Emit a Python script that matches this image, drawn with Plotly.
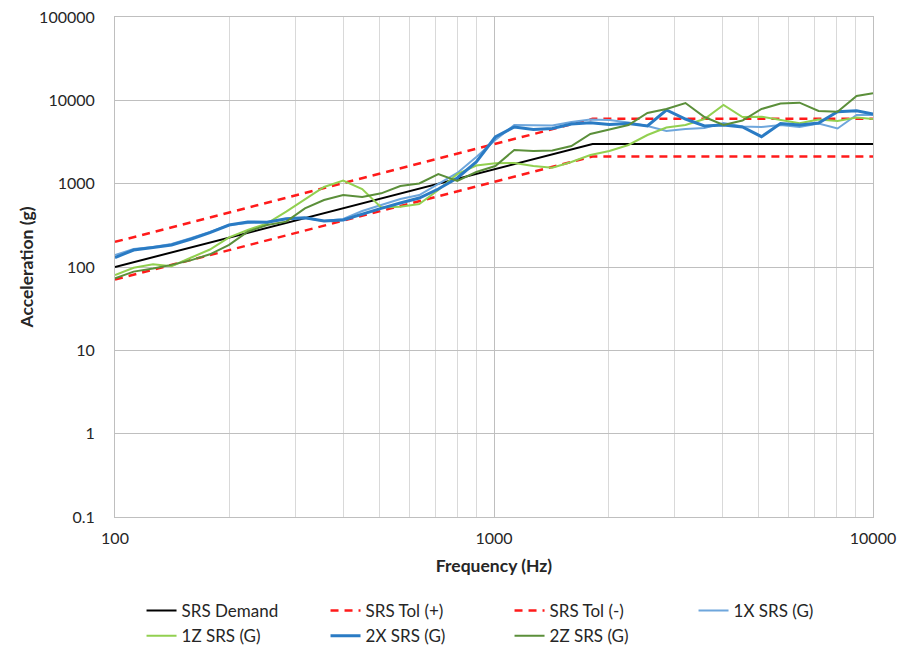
import plotly.graph_objects as go

# ---- data ----
freq = [100, 112, 126, 141, 159, 178, 200, 224, 252, 283, 317, 356, 400, 449, 504,
        566, 635, 713, 800, 898, 1008, 1131, 1270, 1425, 1600, 1796, 2016, 2263,
        2540, 2851, 3200, 3592, 4032, 4525, 5080, 5702, 6400, 7184, 8063, 9051, 10000]

srs_1x = [139, 164, 174, 189, 223, 263, 319, 337, 347, 377, 387, 356, 377, 470, 555,
          655, 731, 991, 1343, 2089, 3342, 5058, 4989, 4989, 5495, 5888, 5808, 5420,
          4920, 4285, 4529, 4656, 5346, 4853, 4786, 5058, 4786, 5272, 4592, 6668, 6668]
srs_1z = [80, 98, 108, 102, 130, 162, 227, 278, 334, 461, 649, 912, 1091, 863, 518,
          530, 570, 839, 1306, 1652, 1754, 1770, 1629, 1556, 1820, 2208, 2466, 2911,
          3837, 4721, 5058, 5970, 8790, 6310, 6368, 5808, 5297, 5888, 5649, 6223, 5970]
srs_2x = [130, 160, 171, 184, 217, 258, 319, 347, 344, 380, 391, 356, 366, 432, 506,
          586, 673, 863, 1169, 1820, 3631, 4786, 4467, 4592, 5200, 5395, 5129, 5272,
          4920, 7656, 5970, 4920, 5058, 4786, 3664, 5272, 5058, 5346, 7311, 7516, 6855]
srs_2z = [73, 88, 96, 106, 121, 142, 184, 265, 319, 350, 506, 637, 731, 692, 766,
          938, 1005, 1306, 1076, 1380, 1629, 2535, 2466, 2500, 2831, 3945, 4467, 5058,
          7047, 7870, 9290, 6310, 5058, 5728, 7870, 9162, 9376, 7447, 7311, 11272, 12134]

demand_freq = [100, 1820, 10000]
demand = [100, 3000, 3000]
tol_plus = [200, 6000, 6000]
tol_minus = [70.7, 2121, 2121]

y_tickvals = [0.1, 1, 10, 100, 1000, 10000, 100000]
y_ticktext = ["0.1", "1", "10", "100", "1000", "10000", "100000"]
x_tickvals = [100, 1000, 10000]
x_ticktext = ["100", "1000", "10000"]
x_minor = [200, 300, 400, 500, 600, 700, 800, 900,
           2000, 3000, 4000, 5000, 6000, 7000, 8000, 9000]

FONT = "Lato, 'Open Sans', sans-serif"

fig = go.Figure()
fig.add_trace(go.Scatter(x=demand_freq, y=demand, mode="lines", name="SRS Demand",
                         line=dict(color="#000000", width=2)))
fig.add_trace(go.Scatter(x=demand_freq, y=tol_plus, mode="lines", name="SRS Tol (+)",
                         line=dict(color="#ff1a1a", width=2.5, dash="8px,6px")))
fig.add_trace(go.Scatter(x=demand_freq, y=tol_minus, mode="lines", name="SRS Tol (-)",
                         line=dict(color="#ff1a1a", width=2.5, dash="8px,6px")))
fig.add_trace(go.Scatter(x=freq, y=srs_1x, mode="lines", name="1X SRS (G)",
                         line=dict(color="#6ea6dc", width=2)))
fig.add_trace(go.Scatter(x=freq, y=srs_1z, mode="lines", name="1Z SRS (G)",
                         line=dict(color="#92d050", width=2)))
fig.add_trace(go.Scatter(x=freq, y=srs_2x, mode="lines", name="2X SRS (G)",
                         line=dict(color="#2a7bc4", width=3)))
fig.add_trace(go.Scatter(x=freq, y=srs_2z, mode="lines", name="2Z SRS (G)",
                         line=dict(color="#5b8f3a", width=2)))

# page body has an 8px default margin, so the figure is sized to fit the window
fig.update_layout(
    width=899, height=637,
    margin=dict(l=107, r=34, t=9, b=128, autoexpand=False),
    paper_bgcolor="white", plot_bgcolor="white",
    font=dict(family=FONT, size=16, color="#262626"),
    showlegend=True,
    legend=dict(orientation="h", x=0.035, xanchor="left", y=-0.152, yanchor="top",
                entrywidth=139, entrywidthmode="pixels",
                font=dict(family=FONT, size=17, color="#262626"),
                bgcolor="rgba(0,0,0,0)"),
)

fig.update_xaxes(
    type="log", range=[2, 4],
    tickvals=x_tickvals, ticktext=x_ticktext,
    showgrid=True, gridcolor="#bfbfbf", gridwidth=1,
    minor=dict(tickvals=x_minor, showgrid=True, gridcolor="#d9d9d9", gridwidth=1),
    showline=True, linecolor="#bfbfbf", linewidth=1, mirror=True,
    ticks="", ticklabelstandoff=7, ticklabeloverflow="allow",
    tickfont=dict(family=FONT, size=16, color="#262626"),
    title=dict(text="<b>Frequency (Hz)</b>", standoff=13,
               font=dict(family=FONT, size=17.5, color="#262626")),
    zeroline=False, automargin=False,
)
fig.update_yaxes(
    type="log", range=[-1, 5],
    tickvals=y_tickvals, ticktext=y_ticktext,
    showgrid=True, gridcolor="#bfbfbf", gridwidth=1,
    showline=True, linecolor="#bfbfbf", linewidth=1, mirror=True,
    ticks="", ticklabelstandoff=16, ticklabeloverflow="allow",
    tickfont=dict(family=FONT, size=16, color="#262626"),
    title=dict(text="<b>Acceleration (g)</b>", standoff=0,
               font=dict(family=FONT, size=17.5, color="#262626")),
    zeroline=False, automargin=False,
)

fig.write_html("out.html")
